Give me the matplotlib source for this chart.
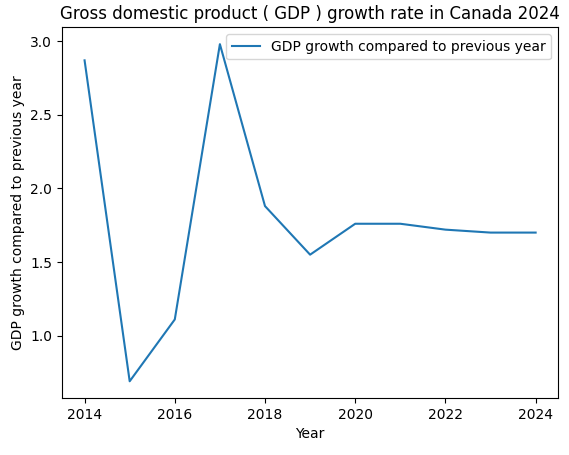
import matplotlib
matplotlib.use("Agg")
import matplotlib.pyplot as plt

years = [2014, 2015, 2016, 2017, 2018, 2019, 2020, 2021, 2022, 2023, 2024]
growth = [2.87, 0.69, 1.11, 2.98, 1.88, 1.55, 1.76, 1.76, 1.72, 1.70, 1.70]

fig, ax = plt.subplots(figsize=(5.69, 4.55), dpi=100)
ax.plot(years, growth, label="GDP growth compared to previous year")
ax.set_title("Gross domestic product ( GDP ) growth rate in Canada 2024")
ax.set_xlabel("Year")
ax.set_ylabel("GDP growth compared to previous year")
ax.legend(loc="upper right")
fig.subplots_adjust(left=0.109, right=0.981, top=0.94, bottom=0.125)
fig.savefig("out.png")
